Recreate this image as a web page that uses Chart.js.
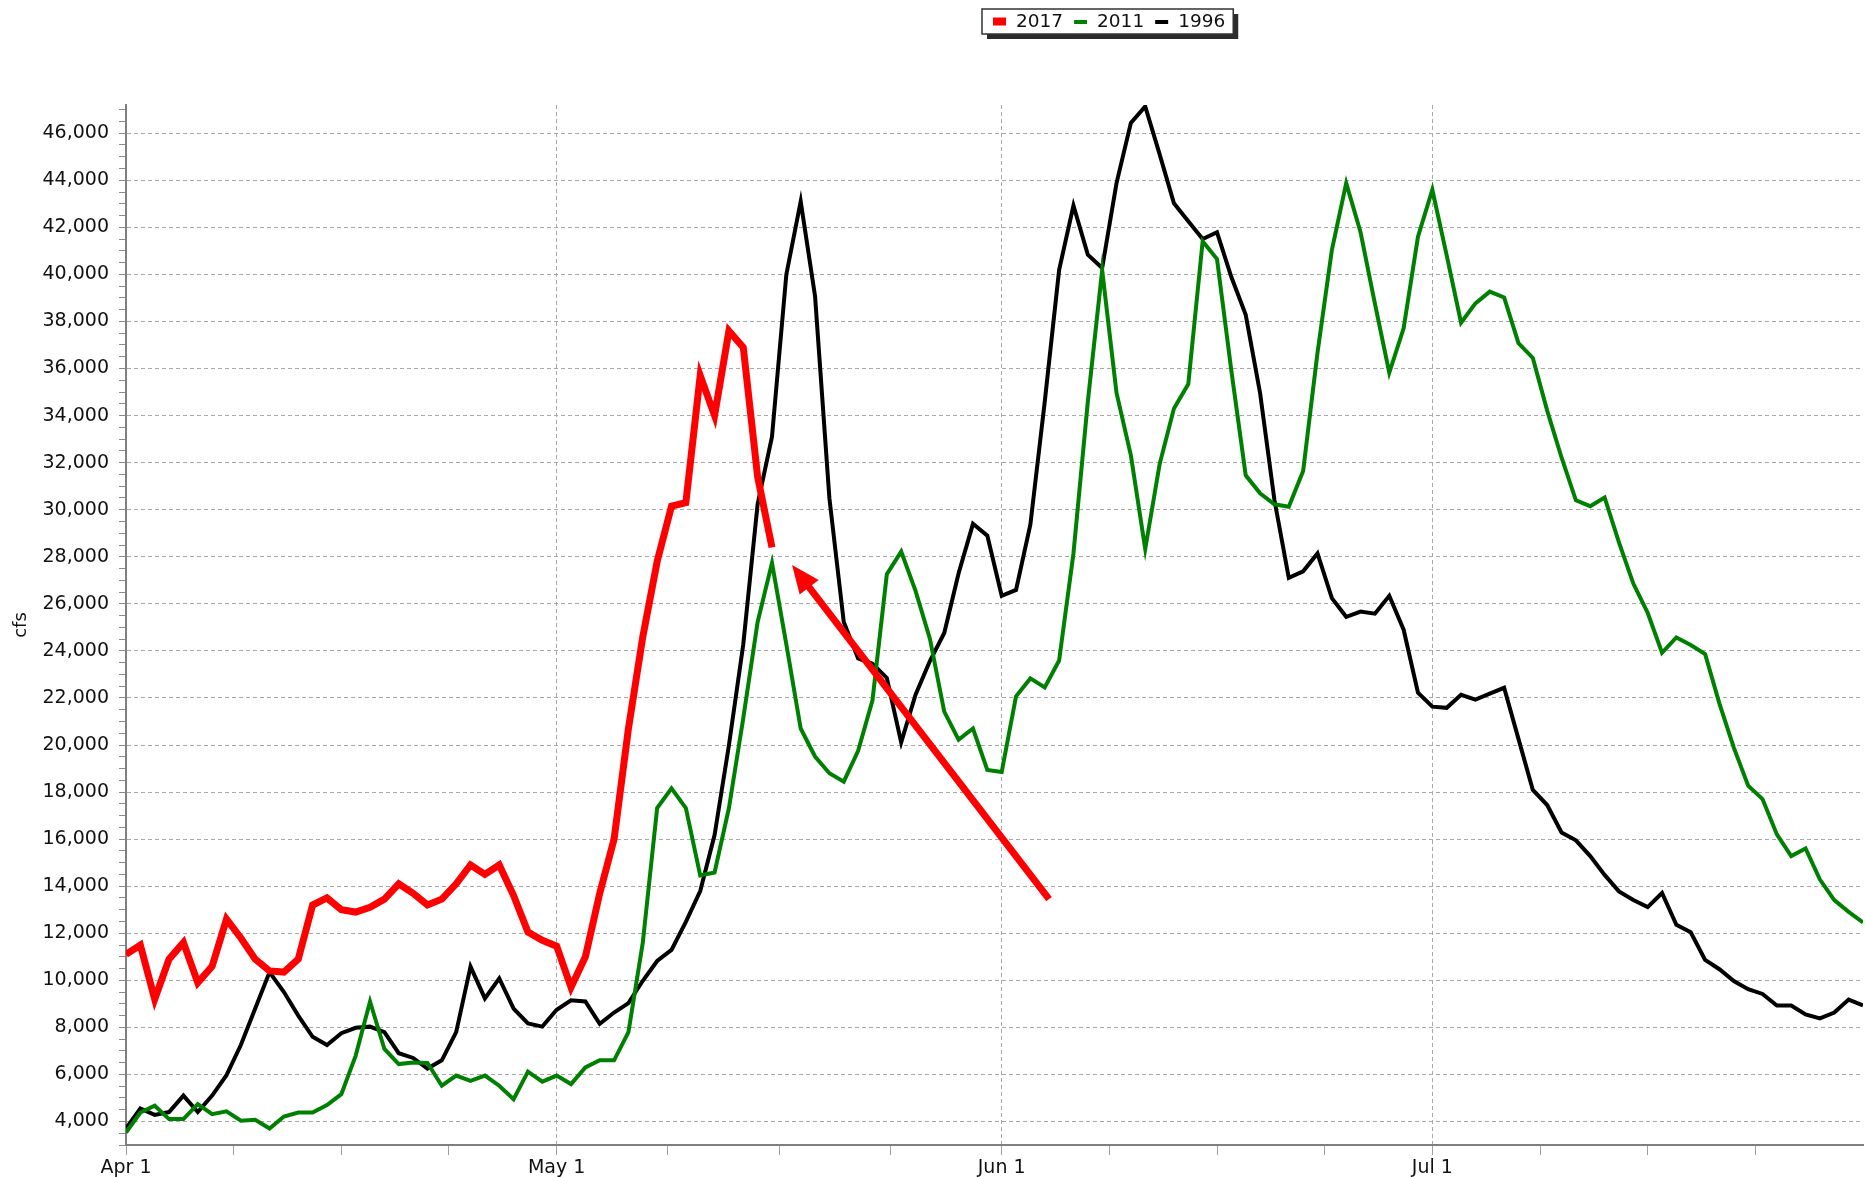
<!DOCTYPE html>
<html>
<head>
<meta charset="utf-8">
<title>Flow comparison</title>
<script src="https://cdn.jsdelivr.net/npm/chart.js@4.4.1/dist/chart.umd.min.js"></script>
<style>
  html, body { margin: 0; padding: 0; background: #ffffff; }
  canvas { display: block; }
</style>
</head>
<body>
<canvas id="flow-chart" width="1865" height="1177"></canvas>
<script>
//Days counted from Apr 1 (day 0) to Jul 31 (day 121)
const monthStarts = [0, 30, 61, 91, 121];
const monthLabels = ['Apr 1', 'May 1', 'Jun 1', 'Jul 1', ''];

const seriesLabels = ['2017', '2011', '1996'];
const seriesColors = ['#ff0000', '#008000', '#000000'];

//Daily flow in cfs, 2017 only runs to mid May
const flow2017 = [
  11100, 11500, 9200, 10900, 11600, 9900, 10600, 12600, 11800, 10900,
  10400, 10350, 10900, 13200, 13500, 13000, 12900, 13100, 13450, 14100,
  13700, 13200, 13450, 14100, 14900, 14500, 14900, 13600, 12050, 11700,
  11450, 9700, 11000, 13700, 16000, 20700, 24600, 27800, 30150, 30300,
  35700, 34000, 37600, 36900, 31400, 28400
];

const flow2011 = [
  3530, 4380, 4670, 4100, 4100, 4740, 4310, 4430, 4030, 4070,
  3700, 4210, 4380, 4380, 4700, 5160, 6800, 9100, 7080, 6440,
  6510, 6490, 5520, 5950, 5730, 5950, 5520, 4950, 6120, 5690,
  5950, 5590, 6300, 6600, 6600, 7800, 11600, 17320, 18160, 17320,
  14460, 14580, 17320, 21140, 25230, 27740, 24280, 20700, 19510, 18800,
  18440, 19750, 21900, 27260, 28220, 26550, 24520, 21420, 20230, 20700,
  18940, 18850, 22070, 22830, 22450, 23590, 28140, 34590, 40180, 34960,
  32310, 28330, 31930, 34300, 35340, 41410, 40650, 35910, 31460, 30700,
  30230, 30130, 31650, 36670, 41030, 43880, 41790, 38760, 35820, 37710,
  41600, 43600, 40810, 37950, 38770, 39270, 39020, 37080, 36450, 34210,
  32220, 30400, 30150, 30520, 28610, 26860, 25620, 23920, 24570, 24250,
  23870, 21760, 19890, 18270, 17700, 16200, 15280, 15600, 14280, 13410,
  12910, 12460
];

const flow1996 = [
  3700, 4550, 4280, 4400, 5100, 4400, 5100, 5970, 7250, 8800,
  10350, 9500, 8500, 7600, 7250, 7750, 7980, 8030, 7800, 6900,
  6700, 6250, 6600, 7800, 10580, 9230, 10080, 8800, 8170, 8030,
  8750, 9150, 9100, 8150, 8630, 9030, 9980, 10820, 11290, 12480,
  13790, 16170, 19990, 24280, 30240, 33100, 40000, 43100, 39070, 30480,
  25230, 23680, 23450, 22850, 20110, 22140, 23570, 24760, 27300, 29400,
  28900, 26340, 26590, 29370, 34590, 40180, 42930, 40840, 40270, 43880,
  46440, 47140, 45110, 43020, 42260, 41500, 41790, 39890, 38280, 34960,
  30410, 27100, 27380, 28140, 26240, 25450, 25670, 25580, 26340, 24900,
  22220, 21630, 21580, 22130, 21930, 22180, 22430, 20260, 18090, 17450,
  16280, 15950, 15280, 14480, 13780, 13410, 13110, 13710, 12360, 12040,
  10870, 10470, 9970, 9620, 9420, 8930, 8930, 8550, 8380, 8630,
  9180, 8930
];

//Annotation arrow, in chart units (day, cfs)
const arrowFrom = { x: 64.3, y: 13450 };
const arrowTo = { x: 46.4, y: 27650 };

const yMin = 3000;
const yMax = 47200;
const yMinorStep = 500;
const yMajorStep = 2000;

const toPoints = (values) => values.map((v, i) => ({ x: i, y: v }));

//minor ticks: each month split in four
const xTickValues = [];
for (let m = 0; m < monthStarts.length - 1; m++) {
  const a = monthStarts[m], b = monthStarts[m + 1];
  for (let q = 0; q < 4; q++) xTickValues.push(a + (b - a) * q / 4);
}
xTickValues.push(monthStarts[monthStarts.length - 1]);

const yTickValues = [];
for (let v = yMin; v <= 47000; v += yMinorStep) yTickValues.push(v);

const isMonthStart = (v) => monthStarts.indexOf(v) >= 0;

Chart.defaults.font.family = "'DejaVu Sans', Verdana, sans-serif";
Chart.defaults.color = '#111111';

//Legend box with drop shadow, drawn on the canvas
const boxLegend = {
  id: 'boxLegend',
  afterDraw(chart) {
    const ctx = chart.ctx;
    const left = 982, top = 9, height = 25;
    ctx.save();
    ctx.font = "18.5px 'DejaVu Sans'";
    ctx.textBaseline = 'middle';
    let width = 11;
    chart.data.datasets.forEach((ds, i) => {
      width += 13 + 10 + ctx.measureText(ds.label).width + (i < 2 ? 11 : 8);
    });
    ctx.fillStyle = '#2b2b2b';
    ctx.fillRect(left + 5, top + 5, width, height);
    ctx.fillStyle = '#ffffff';
    ctx.fillRect(left, top, width, height);
    ctx.strokeStyle = '#333333';
    ctx.lineWidth = 1.5;
    ctx.strokeRect(left, top, width, height);
    let x = left + 11;
    const cy = top + height / 2;
    chart.data.datasets.forEach((ds, i) => {
      ctx.fillStyle = ds.borderColor;
      if (i === 0) ctx.fillRect(x, cy - 4, 13, 8);
      else ctx.fillRect(x, cy - 1.5, 13, 4);
      x += 13 + 10;
      ctx.fillStyle = '#111111';
      ctx.fillText(ds.label, x, cy + 1);
      x += ctx.measureText(ds.label).width + 11;
    });
    ctx.restore();
  }
};

//Red arrow pointing at the end of the 2017 line
const flowArrow = {
  id: 'flowArrow',
  afterDatasetsDraw(chart) {
    const { ctx, scales: { x, y } } = chart;
    const x1 = x.getPixelForValue(arrowFrom.x), y1 = y.getPixelForValue(arrowFrom.y);
    const x2 = x.getPixelForValue(arrowTo.x), y2 = y.getPixelForValue(arrowTo.y);
    const ang = Math.atan2(y2 - y1, x2 - x1);
    const headLen = 28, headHalf = 12;
    const bx = x2 - headLen * Math.cos(ang), by = y2 - headLen * Math.sin(ang);
    ctx.save();
    ctx.strokeStyle = '#ff0000';
    ctx.fillStyle = '#ff0000';
    ctx.lineWidth = 7;
    ctx.beginPath();
    ctx.moveTo(x1, y1);
    ctx.lineTo(bx + 4 * Math.cos(ang), by + 4 * Math.sin(ang));
    ctx.stroke();
    ctx.beginPath();
    ctx.moveTo(x2, y2);
    ctx.lineTo(bx + headHalf * Math.sin(ang), by - headHalf * Math.cos(ang));
    ctx.lineTo(bx - headHalf * Math.sin(ang), by + headHalf * Math.cos(ang));
    ctx.closePath();
    ctx.fill();
    ctx.restore();
  }
};

const flowSeries = [flow2017, flow2011, flow1996];
const lineWidths = [7, 4, 4];

const flowChart = new Chart(document.getElementById('flow-chart'), {
  type: 'line',
  plugins: [flowArrow, boxLegend],
  data: {
    datasets: flowSeries.map((values, i) => ({
      label: seriesLabels[i],
      data: toPoints(values),
      borderColor: seriesColors[i],
      backgroundColor: seriesColors[i],
      borderWidth: lineWidths[i],
      pointRadius: 0,
      tension: 0,
      fill: false
    }))
  },
  options: {
    responsive: false,
    animation: false,
    layout: { padding: { left: 0, right: 0, top: 105, bottom: 0 } },
    plugins: {
      legend: { display: false },
      tooltip: { enabled: false }
    },
    scales: {
      x: {
        type: 'linear',
        min: 0,
        max: 121,
        afterBuildTicks: (scale) => { scale.ticks = xTickValues.map(v => ({ value: v })); },
        afterFit: (scale) => { scale.height = 32; },
        ticks: {
          autoSkip: false,
          maxRotation: 0,
          padding: 2,
          font: { size: 19 },
          color: '#111111',
          callback: (v) => {
            const k = monthStarts.indexOf(v);
            return k >= 0 ? monthLabels[k] : '';
          }
        },
        grid: {
          color: (c) => (c.tick && isMonthStart(c.tick.value) && c.tick.value > 0 && c.tick.value < 121) ? '#a8a8a8' : 'rgba(0,0,0,0)',
          tickColor: (c) => (c.tick && c.tick.value >= 121) ? 'rgba(0,0,0,0)' : '#a0a0a0',
          tickLength: 10,
          lineWidth: 1
        },
        border: { color: '#7f7f7f', width: 2, dash: [4, 3] }
      },
      y: {
        min: yMin,
        max: yMax,
        afterBuildTicks: (scale) => { scale.ticks = yTickValues.map(v => ({ value: v })); },
        afterFit: (scale) => { scale.width = 126; },
        title: {
          display: true,
          text: 'cfs',
          font: { size: 18 },
          color: '#111111',
          padding: { top: 11, bottom: 0 }
        },
        ticks: {
          autoSkip: false,
          padding: 10,
          font: { size: 19 },
          color: '#111111',
          callback: (v) => (v % yMajorStep === 0) ? v.toLocaleString('en-US') : ''
        },
        grid: {
          color: (c) => (c.tick && c.tick.value % yMajorStep === 0) ? '#a8a8a8' : 'rgba(0,0,0,0)',
          tickColor: '#8a8a8a',
          tickLength: 7,
          lineWidth: 1
        },
        border: { color: '#7f7f7f', width: 2, dash: [4, 3] }
      }
    }
  }
});
</script>
</body>
</html>
